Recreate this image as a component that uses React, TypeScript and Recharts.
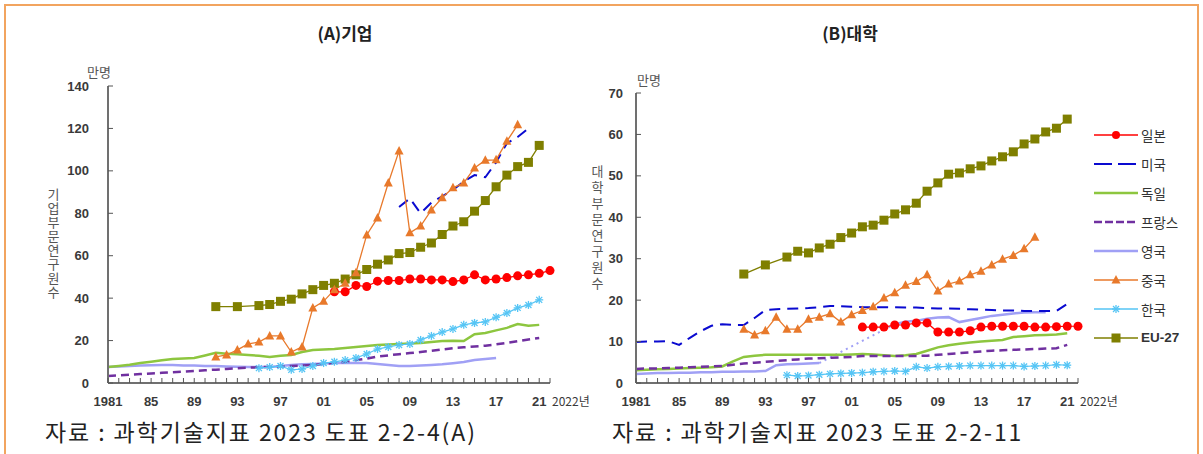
import React from 'react';
import { LineChart, Line, XAxis, YAxis } from 'recharts';

// x categories
const years = Array.from({ length: 42 }, (_, i) => 1981 + i);
const yearLabels: Record<number, string> = {
  1981: '1981', 1985: '85', 1989: '89', 1993: '93', 1997: '97', 2001: '01',
  2005: '05', 2009: '09', 2013: '13', 2017: '17', 2021: '21',
};
const firmTicks = [0, 20, 40, 60, 80, 100, 120, 140];
const univTicks = [0, 10, 20, 30, 40, 50, 60, 70];

// (A) 기업 (만명)
const firmJapan = [43, 43, 46, 45.5, 48, 48.3, 48.3, 49, 49, 48.6, 48.6, 47.8, 48.6, 51, 48.6, 49, 49.7, 50.5, 51, 51.7, 53]; // 2002-2022
const firmUSA = [83, 87, 80, 85, 88, 91, 95, 98, 97, 104, 113, 116, 120]; // 2008-2020
const firmGermany = [7.5, 8, 8.6, 9.4, 10, 10.7, 11.3, 11.5, 11.8, 13, 14.2, 13.8, 13.5, 13.2, 12.8, 12.3, 12.8, 13.2, 14.6, 15.6, 15.8, 16, 16.5, 17, 17.4, 17.9, 18.1, 18.4, 18.6, 18.9, 19.3, 19.8, 19.9, 19.8, 23, 23.6, 24.8, 26, 27.8, 27, 27.4]; // 1981-2021
const firmFrance = [3.3, 3.6, 3.9, 4.2, 4.5, 4.8, 5.1, 5.4, 5.7, 6, 6.3, 6.6, 7, 7.2, 7.4, 7.6, 7.8, 8, 8.2, 8.5, 9, 9.5, 10, 10.8, 11.5, 12.5, 13, 13.6, 14.1, 14.6, 15.2, 15.8, 16.4, 16.8, 17.2, 17.6, 18.2, 18.9, 19.7, 20.5, 21.2]; // 1981-2021
const firmUK = [7.5, 7.8, 8, 8.2, 8.4, 8.5, 8.5, 8.3, 8.2, 8, 8, 7.8, 7.7, 7.6, 7.5, 7.6, 8, 8.5, 8.8, 9, 9.2, 9.4, 9.4, 9.4, 9.4, 9, 8.5, 8, 8, 8.2, 8.5, 8.8, 9.3, 9.9, 10.8, 11.3, 11.8]; // 1981-2017
const firmChina = [12.3, 13.2, 15.6, 18.4, 19.3, 22.2, 22.2, 14.6, 17, 35.4, 38.5, 44, 47, 52, 69.8, 77.8, 94.3, 109.4, 70.8, 74, 81.6, 87.3, 92, 94.3, 101.4, 105, 105.2, 114, 121.7]; // 1991-2019
const firmKorea = [7, 7.5, 8, 6.2, 6.6, 8, 9.4, 10, 10.8, 11.8, 13.7, 16, 17, 17.9, 18.4, 20.3, 22.2, 24, 25.5, 27.4, 28.3, 28.8, 31, 33, 35.4, 36.8, 39.2]; // 1995-2021
const firmEU = [36, null, 36, null, 36.5, 37, 38.5, 39.5, 42, 44, 46, 47, 49, 51, 53.5, 56, 58, 61, 61.5, 64, 66, 70, 74, 76, 81, 86, 92.5, 98, 102, 104, 112]; // 1991-2021

// (B) 대학 (만명)
const univJapan = [13.5, 13.5, 13.5, 14, 14, 14.5, 14.5, 12.3, 12.3, 12.3, 12.6, 13.5, 13.7, 13.7, 13.7, 13.7, 13.5, 13.5, 13.6, 13.7, 13.7]; // 2002-2022
const univUSA = [9.9, 10, 10, 10.1, 9.2, 10.9, 12.5, 13.8, 14.2, 14, 14, 15.7, 17.6, 17.8, 17.9, 18, 18.1, 18.3, 18.6, 18.5, 18.4, 18.3, 18.3, 18.3, 18.3, 18.2, 18.2, 18.1, 18, 18, 17.9, 17.8, 17.7, 17.6, 17.5, 17.5, 17.4, 17.4, 17.4, 17.4, 19.1]; // 1981-2021
const univGermany = [3.1, 3.2, 3.3, 3.4, 3.5, 3.6, 3.7, 3.8, 4, 5.2, 6.3, 6.6, 6.8, 6.8, 6.8, 6.8, 6.8, 6.8, 6.8, 6.8, 6.9, 7, 6.9, 6.7, 6.5, 6.7, 7, 7.8, 8.6, 9.1, 9.5, 9.8, 10, 10.2, 10.4, 11.1, 11.3, 11.5, 11.6, 11.7, 12]; // 1981-2021
const univFrance = [3.4, 3.5, 3.5, 3.6, 3.7, 3.8, 3.9, 4, 4.1, 4.4, 4.7, 4.9, 5.1, 5.3, 5.5, 5.7, 5.9, 6, 6.1, 6.2, 6.3, 6.5, 6.5, 6.5, 6.5, 6.5, 6.5, 6.6, 6.8, 7, 7.2, 7.4, 7.6, 7.8, 7.9, 8, 8.1, 8.2, 8.3, 8.4, 9.2]; // 1981-2021
const univUK = [2.2, 2.3, 2.4, 2.4, 2.5, 2.5, 2.6, 2.6, 2.7, 2.7, 2.8, 2.8, 2.9, 4.3, 4.5, 4.6, 4.7, 4.8, null, null, null, null, null, null, 14.2, 14.8, 15, 15.5, 15.8, 15.9, 14.7, 15.2, 15.7, 16.2, 16.5, 16.8, 17, 17.1, 17.1]; // 1981-2019
const univUKGap = [4.8, null, null, null, null, null, null, 14.2]; // 1998-2005 (점선)
const univChina = [13, 11.6, 12.6, 15.9, 13, 13, 15.4, 15.9, 16.7, 14.7, 16.5, 17.5, 18.4, 20.5, 21.8, 23.6, 24.5, 26.1, 22.2, 23.9, 24.6, 26.1, 27, 28.5, 29.9, 30.8, 32.4, 35.2]; // 1991-2018
const univKorea = [1.9, 1.7, 1.8, 2, 2.2, 2.3, 2.4, 2.5, 2.7, 2.8, 2.9, 2.8, 3.9, 3.6, 3.9, 4, 4.1, 4.2, 4.2, 4.2, 4.2, 4.2, 4, 4.1, 4.2, 4.4, 4.3]; // 1995-2021
const univEU = [26.3, null, 28.5, null, 30.4, 31.8, 31.4, 32.6, 33.5, 35.1, 36.2, 37.7, 38.1, 39.3, 40.8, 41.8, 43.4, 46.3, 48.3, 50.4, 50.7, 51.7, 52.4, 53.6, 54.6, 55.8, 57.7, 58.9, 60.6, 61.5, 63.7]; // 1991-2021

const C = {
  japan: '#ff0000',
  usa: '#0a0ad0',
  germany: '#8dc63f',
  france: '#7030a0',
  uk: '#a0a0f5',
  china: '#e8792b',
  korea: '#55c5f5',
  eu: '#7f7f00',
};

const numFont = "'Liberation Sans', Arial, sans-serif";
const krFont = "'Noto Sans CJK KR', 'Noto Sans', sans-serif";

type Part = { key: string; start: number; values: (number | null)[] };

function buildRows(parts: Part[]) {
  return years.map((y) => {
    const row: Record<string, number | null> = { year: y };
    parts.forEach((p) => {
      const i = y - p.start;
      row[p.key] = i >= 0 && i < p.values.length ? p.values[i] : null;
    });
    return row;
  });
}

const firmRows = buildRows([
  { key: 'japan', start: 2002, values: firmJapan },
  { key: 'usa', start: 2008, values: firmUSA },
  { key: 'germany', start: 1981, values: firmGermany },
  { key: 'france', start: 1981, values: firmFrance },
  { key: 'uk', start: 1981, values: firmUK },
  { key: 'china', start: 1991, values: firmChina },
  { key: 'korea', start: 1995, values: firmKorea },
  { key: 'eu', start: 1991, values: firmEU },
]);

const univRows = buildRows([
  { key: 'japan', start: 2002, values: univJapan },
  { key: 'usa', start: 1981, values: univUSA },
  { key: 'germany', start: 1981, values: univGermany },
  { key: 'france', start: 1981, values: univFrance },
  { key: 'uk', start: 1981, values: univUK },
  { key: 'ukGap', start: 1998, values: univUKGap },
  { key: 'china', start: 1991, values: univChina },
  { key: 'korea', start: 1995, values: univKorea },
  { key: 'eu', start: 1991, values: univEU },
]);

const noDot = (p: any) => p.cx == null || p.cy == null || p.value == null || isNaN(p.cy);

const circleDot = (p: any) =>
  noDot(p) ? <g key={`c${p.index}`} /> : <circle key={`c${p.index}`} cx={p.cx} cy={p.cy} r={4.5} fill={C.japan} />;

const triangleDot = (p: any) =>
  noDot(p) ? <g key={`t${p.index}`} /> : (
    <path key={`t${p.index}`} d={`M${p.cx},${p.cy - 5} L${p.cx + 4.5},${p.cy + 3.5} L${p.cx - 4.5},${p.cy + 3.5} Z`} fill={C.china} />
  );

const squareDot = (p: any) =>
  noDot(p) ? <g key={`s${p.index}`} /> : <rect key={`s${p.index}`} x={p.cx - 4.5} y={p.cy - 4.5} width={9} height={9} fill={C.eu} />;

const starDot = (p: any) =>
  noDot(p) ? <g key={`k${p.index}`} /> : (
    <g key={`k${p.index}`} stroke={C.korea} strokeWidth={1.3}>
      <line x1={p.cx - 4} y1={p.cy} x2={p.cx + 4} y2={p.cy} />
      <line x1={p.cx - 3} y1={p.cy - 3} x2={p.cx + 3} y2={p.cy + 3} />
      <line x1={p.cx - 3} y1={p.cy + 3} x2={p.cx + 3} y2={p.cy - 3} />
      <line x1={p.cx} y1={p.cy - 4} x2={p.cx} y2={p.cy + 4} />
    </g>
  );

const XTick = (props: any) => {
  const { x, y, payload } = props;
  const v = payload.value as number;
  const label = yearLabels[v];
  return (
    <g>
      <line x1={x} y1={y} x2={x} y2={y - 5} stroke="#555" strokeWidth={1} />
      {label && (
        <text x={x} y={y + 23} textAnchor="middle" fontSize={13} fontWeight="bold" fill="#3a3a3a" fontFamily={numFont}>
          {label}
        </text>
      )}
      {v === 2022 && (
        <text x={x + 2} y={y + 23} textAnchor="start" fontSize={12} fill="#3a3a3a" fontFamily={krFont}>
          2022년
        </text>
      )}
    </g>
  );
};

const makeYTick = (gap: number) => (props: any) => {
  const { x, y, payload } = props;
  return (
    <g>
      <line x1={x} y1={y} x2={x + 5} y2={y} stroke="#555" strokeWidth={1} />
      <text x={x - gap} y={y + 4.5} textAnchor="end" fontSize={13} fontWeight="bold" fill="#3a3a3a" fontFamily={numFont}>
        {payload.value}
      </text>
    </g>
  );
};

function Panel(props: { rows: any[]; yMax: number; yTicks: number[]; top: number; left: number; width: number; right: number; gap: number; ukGap?: boolean }) {
  const { rows, yMax, yTicks, top, left, width, right, gap, ukGap } = props;
  return (
    <LineChart width={width} height={454} data={rows} margin={{ top, right, left, bottom: 41 }}>
      <XAxis
        dataKey="year"
        type="number"
        domain={[1981, 2022]}
        ticks={years}
        interval={0}
        height={30}
        tickSize={0}
        tickMargin={0}
        tickLine={false}
        axisLine={{ stroke: '#707070', strokeWidth: 2 }}
        tick={<XTick />}
      />
      <YAxis
        type="number"
        domain={[0, yMax]}
        ticks={yTicks}
        interval={0}
        width={40}
        tickSize={0}
        tickMargin={0}
        tickLine={false}
        axisLine={{ stroke: '#707070', strokeWidth: 2 }}
        tick={makeYTick(gap)}
      />
      <Line dataKey="uk" stroke={C.uk} strokeWidth={2.5} dot={false} activeDot={false} isAnimationActive={false} />
      {ukGap && (
        <Line dataKey="ukGap" stroke={C.uk} strokeWidth={2} strokeDasharray="2 4" connectNulls dot={false} activeDot={false} isAnimationActive={false} />
      )}
      <Line dataKey="germany" stroke={C.germany} strokeWidth={2.5} dot={false} activeDot={false} isAnimationActive={false} />
      <Line dataKey="france" stroke={C.france} strokeWidth={2.5} strokeDasharray="8 5" dot={false} activeDot={false} isAnimationActive={false} />
      <Line dataKey="korea" stroke={C.korea} strokeWidth={1.2} dot={starDot} activeDot={false} isAnimationActive={false} />
      <Line dataKey="usa" stroke={C.usa} strokeWidth={2} strokeDasharray="11 7" dot={false} activeDot={false} isAnimationActive={false} />
      <Line dataKey="japan" stroke={C.japan} strokeWidth={1.2} dot={circleDot} activeDot={false} isAnimationActive={false} />
      <Line dataKey="eu" stroke={C.eu} strokeWidth={1.3} connectNulls dot={squareDot} activeDot={false} isAnimationActive={false} />
      <Line dataKey="china" stroke={C.china} strokeWidth={1.3} dot={triangleDot} activeDot={false} isAnimationActive={false} />
    </LineChart>
  );
}

const legendItems = [
  { name: '일본', color: C.japan, kind: 'circle' },
  { name: '미국', color: C.usa, kind: 'usa' },
  { name: '독일', color: C.germany, kind: 'solid' },
  { name: '프랑스', color: C.france, kind: 'france' },
  { name: '영국', color: C.uk, kind: 'solid' },
  { name: '중국', color: C.china, kind: 'triangle' },
  { name: '한국', color: C.korea, kind: 'star' },
  { name: 'EU-27', color: C.eu, kind: 'square' },
];

function LegendSample({ kind, color }: { kind: string; color: string }) {
  const w = 44;
  const m = 22;
  const y = 7;
  let line: React.ReactNode = <line x1={0} y1={y} x2={w} y2={y} stroke={color} strokeWidth={1.3} />;
  if (kind === 'usa') line = <line x1={0} y1={y} x2={w} y2={y} stroke={color} strokeWidth={2} strokeDasharray="18 6" />;
  if (kind === 'solid') line = <line x1={0} y1={y} x2={w} y2={y} stroke={color} strokeWidth={2.5} />;
  if (kind === 'france') line = <line x1={0} y1={y} x2={w} y2={y} stroke={color} strokeWidth={2.5} strokeDasharray="8 3" />;
  return (
    <svg width={w} height={14} style={{ display: 'block' }}>
      {line}
      {kind === 'circle' && <circle cx={m} cy={y} r={4} fill={color} />}
      {kind === 'triangle' && <path d={`M${m},${y - 5} L${m + 4.5},${y + 3.5} L${m - 4.5},${y + 3.5} Z`} fill={color} />}
      {kind === 'square' && <rect x={m - 4.5} y={y - 4.5} width={9} height={9} fill={color} />}
      {kind === 'star' && (
        <g stroke={color} strokeWidth={1.3}>
          <line x1={m - 4} y1={y} x2={m + 4} y2={y} />
          <line x1={m - 3} y1={y - 3} x2={m + 3} y2={y + 3} />
          <line x1={m - 3} y1={y + 3} x2={m + 3} y2={y - 3} />
          <line x1={m} y1={y - 4} x2={m} y2={y + 4} />
        </g>
      )}
    </svg>
  );
}

const abs = (s: React.CSSProperties): React.CSSProperties => ({ position: 'absolute', ...s });

export default function App() {
  return (
    <div style={abs({ left: 0, top: 0, width: 1203, height: 454, background: '#fff', overflow: 'hidden', fontFamily: krFont })}>
      <div style={abs({ left: 4, top: 4, width: 1191, height: 470, border: '2px solid #f2a45f', borderBottom: 'none' })} />

      <div style={abs({ left: 0, top: 0 })}>
        <Panel rows={firmRows} yMax={140} yTicks={firmTicks} top={86} left={68} right={50} width={600} gap={19} />
      </div>
      <div style={abs({ left: 560, top: 0 })}>
        <Panel rows={univRows} yMax={70} yTicks={univTicks} top={93} left={36} right={125} width={643} gap={13} ukGap />
      </div>

      <div style={abs({ left: 0, width: 690, top: 20, textAlign: 'center', fontSize: 17, fontWeight: 700, color: '#222' })}>(A)기업</div>
      <div style={abs({ left: 700, width: 300, top: 20, textAlign: 'center', fontSize: 17, fontWeight: 700, color: '#222' })}>(B)대학</div>

      <div style={abs({ left: 87, top: 62, fontSize: 13, color: '#555' })}>만명</div>
      <div style={abs({ left: 637, top: 70, fontSize: 13, color: '#555' })}>만명</div>

      <div style={abs({ left: 47, top: 188, writingMode: 'vertical-rl', textOrientation: 'upright', fontSize: 13, letterSpacing: 1, color: '#555', lineHeight: 1 })}>기업부문연구원수</div>
      <div style={abs({ left: 591, top: 165, writingMode: 'vertical-rl', textOrientation: 'upright', fontSize: 13, letterSpacing: 3, color: '#555', lineHeight: 1 })}>대학부문연구원수</div>

      <div style={abs({ left: 1094, top: 120 })}>
        {legendItems.map((it) => (
          <div key={it.name} style={{ display: 'flex', alignItems: 'center', height: 29 }}>
            <LegendSample kind={it.kind} color={it.color} />
            <span style={{ marginLeft: 3, fontSize: 13.5, color: '#333', fontFamily: it.name === 'EU-27' ? numFont : krFont, fontWeight: it.name === 'EU-27' ? 700 : 400 }}>
              {it.name}
            </span>
          </div>
        ))}
      </div>

      <div style={abs({ left: 45, top: 414, fontSize: 23, color: '#222', whiteSpace: 'pre', letterSpacing: 1.9 })}>자료 : 과학기술지표 2023 도표 2-2-4(A)</div>
      <div style={abs({ left: 612, top: 414, fontSize: 23, color: '#222', whiteSpace: 'pre', letterSpacing: 1.9 })}>자료 : 과학기술지표 2023 도표 2-2-11</div>
    </div>
  );
}
